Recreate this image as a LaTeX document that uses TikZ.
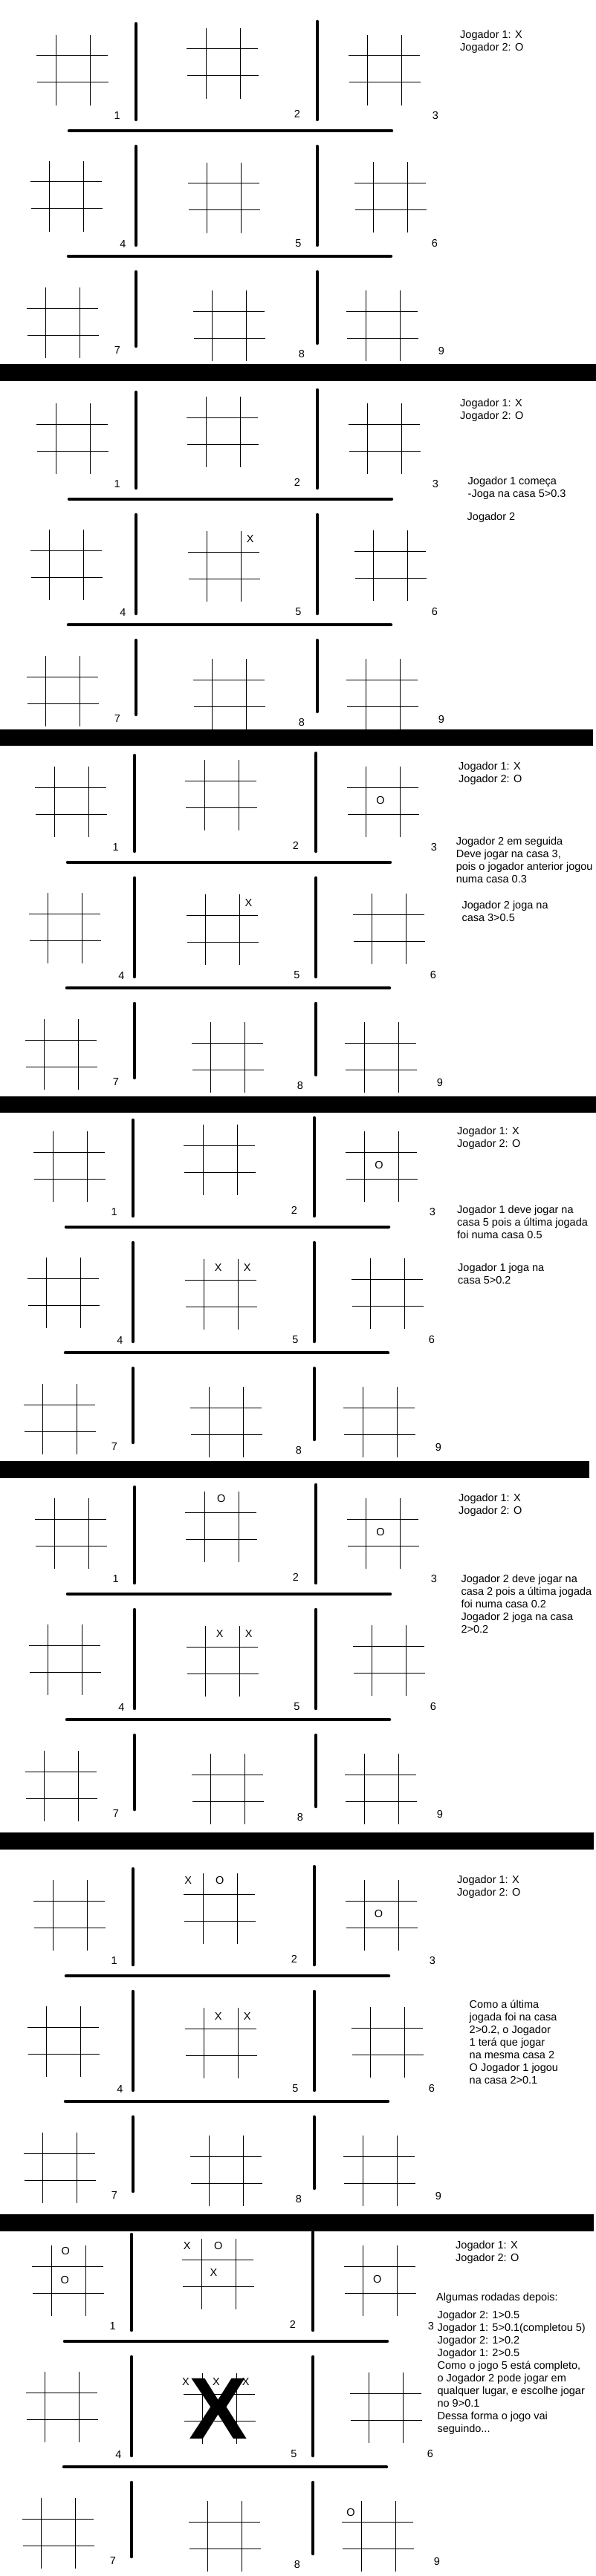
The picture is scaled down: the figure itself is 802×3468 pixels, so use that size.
\documentclass[tikz,border=0pt]{standalone}
\usepackage{fontspec}
\setmainfont{Liberation Sans}
\usepackage{tikz}

\newcommand{\notestrut}{\rule{0pt}{14pt}}

\begin{document}
\begin{tikzpicture}[x=1pt, y=-1pt,
    bar/.style={line width=4.5pt, line cap=round},
    fine/.style={line width=1pt},
    band/.style={fill=black},
    num/.style={inner sep=0pt, font=\fontsize{14.5}{17}\selectfont},
    jogada/.style={inner sep=0pt, font=\fontsize{14.5}{17}\selectfont},
    note/.style={inner sep=0pt, anchor=north west, align=left, font=\fontsize{14.5}{17}\selectfont},
    hash/.pic={\draw[fine] (0,0) -- (0,95) (46,0) -- (46,95) (-26,28) -- (70,28) (-25,64) -- (71,64);}
  ]
  \fill[white] (0,0) rectangle (802,3468);
  \useasboundingbox (0,0) rectangle (802,3468);

  % the same board in every step
  \foreach \p/\dx/\dy in {1/0/0, 2/0/496, 3/-2/985, 4/-4/1476, 5/-2/1970, 6/-4/2484, 7/-6/2976}{
    \begin{scope}[shift={(\dx,\dy)}]
      \draw[bar] (183,32) -- (183,161);
      \draw[bar] (427,29) -- (427,161);
      \draw[bar] (93,176) -- (527,176);
      \draw[bar] (183,197) -- (183,330);
      \draw[bar] (427,197) -- (427,330);
      \draw[bar] (92,345) -- (526,345);
      \draw[bar] (183,366) -- (183,466);
      \draw[bar] (427,366) -- (427,462);
      \foreach \gx/\gy in {75/47, 277/38, 494.5/47, 66.7/217, 278.8/219, 502.7/218.3, 61.6/387, 285.5/391, 492.4/391}
        \pic at (\gx,\gy) {hash};
      \foreach \c/\cx/\cy in {1/157.6/155.7, 2/400/153.7, 3/585.8/155.7, 4/165.3/328.7, 5/401.5/328, 6/584.8/327.7, 7/158/471.7, 8/406/476.7, 9/594/472.7}
        \node[num] (c\p-\c) at (\cx,\cy) {\c};
      \node[note] (legend\p) at (619,37.3) {\notestrut Jogador 1: X\\Jogador 2: O};
    \end{scope}
  }

  % step 2
  \begin{scope}[shift={(0,496)}]
    \node[jogada] (x2a) at (336.8,230) {X};
    \node[note] (t2a) at (629.5,142.5) {\notestrut Jogador 1 começa\\-Joga na casa 5>0.3};
    \node[note] (t2b) at (628.5,190.2) {\notestrut Jogador 2};
  \end{scope}

  % step 3
  \begin{scope}[shift={(-2,985)}]
    \node[jogada] (o3a) at (514,92.3) {O};
    \node[jogada] (x3a) at (336.5,230) {X};
    \node[note] (t3a) at (615.6,138.6) {\notestrut Jogador 2 em seguida\\Deve jogar na casa 3,\\pois o jogador anterior jogou\\numa casa 0.3};
    \node[note] (t3b) at (623.3,224.4) {\notestrut Jogador 2 joga na\\casa 3>0.5};
  \end{scope}

  % step 4
  \begin{scope}[shift={(-4,1476)}]
    \node[jogada] (o4a) at (514,92.3) {O};
    \node[jogada] (x4a) at (297.7,230) {X};
    \node[jogada] (x4b) at (336.7,230) {X};
    \node[note] (t4a) at (619,142.9) {\notestrut Jogador 1 deve jogar na\\casa 5 pois a última jogada\\foi numa casa 0.5};
    \node[note] (t4b) at (620,221.2) {\notestrut Jogador 1 joga na\\casa 5>0.2};
  \end{scope}

  % step 5
  \begin{scope}[shift={(-2,1970)}]
    \node[jogada] (o5a) at (299.8,47.7) {O};
    \node[jogada] (o5b) at (514,92.3) {O};
    \node[jogada] (x5a) at (297.7,229.5) {X};
    \node[jogada] (x5b) at (336.7,229.5) {X};
    \node[note] (t5a) at (622.3,146.5) {\notestrut Jogador 2 deve jogar na\\casa 2 pois a última jogada\\foi numa casa 0.2\\Jogador 2 joga na casa\\2>0.2};
  \end{scope}

  % step 6
  \begin{scope}[shift={(-4,2484)}]
    \node[jogada] (x6a) at (257.1,47.7) {X};
    \node[jogada] (o6a) at (299.7,47.7) {O};
    \node[jogada] (o6b) at (513.5,92.7) {O};
    \node[jogada] (x6b) at (297.7,230) {X};
    \node[jogada] (x6c) at (336.7,230) {X};
    \node[note] (t6a) at (635.5,205.2) {\notestrut Como a última\\jogada foi na casa\\2>0.2, o Jogador\\1 terá que jogar\\na mesma casa 2\\O Jogador 1 jogou\\na casa 2>0.1};
  \end{scope}

  % step 7
  \begin{scope}[shift={(-6,2976)}]
    \node[jogada] (o7a) at (94.3,54.3) {O};
    \node[jogada] (o7b) at (93.3,93.3) {O};
    \node[jogada] (x7a) at (257.6,47.3) {X};
    \node[jogada] (o7c) at (299.7,47.3) {O};
    \node[jogada] (x7b) at (293.5,83.7) {X};
    \node[jogada] (o7d) at (513.8,92.3) {O};
    \node[jogada] (x7c) at (256,230) {X};
    \node[jogada] (x7d) at (297,230) {X};
    \node[jogada] (x7e) at (336.7,230) {X};
    \node[inner sep=0pt, font=\fontsize{118}{118}\selectfont\bfseries] (bigx) at (299.9,266.5) {X};
    \node[jogada] (o7e) at (477.9,406.7) {O};
    \node[note] (t7a) at (592.9,107.2) {\notestrut Algumas rodadas depois:};
    \node[note] (t7b) at (594.4,130.9) {\notestrut Jogador 2: 1>0.5\\Jogador 1: 5>0.1(completou 5)\\Jogador 2: 1>0.2\\Jogador 1: 2>0.5\\Como o jogo 5 está completo,\\o Jogador 2 pode jogar em\\qualquer lugar, e escolhe jogar\\no 9>0.1\\Dessa forma o jogo vai\\seguindo...};
  \end{scope}

  % separators
  \fill[band] (0,490) rectangle (802,513);
  \fill[band] (0,981.5) rectangle (798,1004);
  \fill[band] (0,1476) rectangle (802,1498);
  \fill[band] (0,1967) rectangle (793,1990);
  \fill[band] (0,2467) rectangle (799,2490);
  \fill[band] (0,2981) rectangle (799,3004);
\end{tikzpicture}
\end{document}
